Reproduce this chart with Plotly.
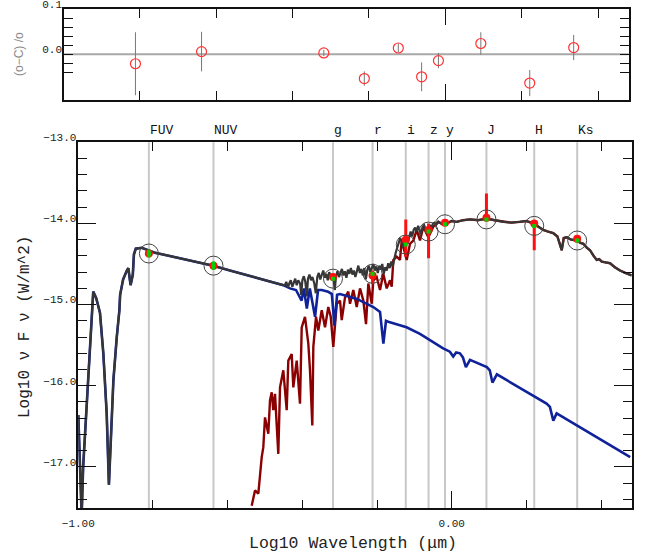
import plotly.graph_objects as go

# ---------------- data ----------------
# hot component model (blue)
HOT_LOGW = [-1.000, -0.991, -0.987, -0.982, -0.976, -0.971, -0.964, -0.960, -0.952, -0.942,
            -0.933, -0.924, -0.918, -0.911, -0.906, -0.897, -0.890, -0.888, -0.880, -0.870,
            -0.866, -0.860, -0.854, -0.851, -0.846, -0.830, -0.795, -0.639, -0.594, -0.451,
            -0.433, -0.417, -0.402, -0.396, -0.388, -0.380, -0.366, -0.358, -0.348, -0.331,
            -0.321, -0.314, -0.307, -0.299, -0.254, -0.210, -0.192, -0.183, -0.176, -0.170,
            -0.121, -0.085, -0.023, -0.005, 0.004, 0.012, 0.022, 0.030, 0.038, 0.049,
            0.094, 0.102, 0.109, 0.121, 0.254, 0.263, 0.272, 0.281, 0.478]
HOT_LOGF = [-16.36, -17.60, -17.00, -16.60, -16.20, -15.74, -15.20, -14.84, -14.92, -15.10,
            -15.60, -16.34, -17.22, -16.34, -15.93, -15.40, -15.07, -14.88, -14.69, -14.58,
            -14.55, -14.76, -14.63, -14.38, -14.31, -14.30, -14.36, -14.52, -14.58, -14.76,
            -14.80, -14.82, -14.95, -14.80, -15.05, -14.80, -15.15, -14.82, -14.82, -14.84,
            -14.87, -15.26, -14.88, -14.87, -14.93, -15.03, -15.09, -15.48, -15.20, -15.21,
            -15.28, -15.36, -15.54, -15.58, -15.64, -15.59, -15.60, -15.65, -15.77, -15.68,
            -15.77, -15.81, -15.96, -15.86, -16.22, -16.26, -16.43, -16.34, -16.88]

# cool component model (dark red)
COOL_LOGW = [-0.5356, -0.5268, -0.5179, -0.5134, -0.5088, -0.5046, -0.5000, -0.4912, -0.4866, -0.4821,
             -0.4778, -0.4732, -0.4644, -0.4598, -0.4510, -0.4419, -0.4376, -0.4285, -0.4242, -0.4151,
             -0.4063, -0.4017, -0.3929, -0.3840, -0.3795, -0.3733, -0.3706, -0.3634, -0.3573, -0.3481,
             -0.3393, -0.3305, -0.3240, -0.3171, -0.3080, -0.2991, -0.2946, -0.2857, -0.2769, -0.2724,
             -0.2635, -0.2544, -0.2456, -0.2367, -0.2295, -0.2233, -0.2142, -0.2100, -0.2009, -0.1920,
             -0.1832, -0.1741, -0.1651, -0.1607, -0.1564, -0.1473, -0.1385, -0.1339, -0.1205, -0.1117,
             -0.1028, -0.0937, -0.0849, -0.0760, -0.0627, -0.0493, -0.0359, -0.0250, -0.0134, 0.0000,
             0.0134, 0.0300, 0.0490, 0.0700, 0.0937, 0.1150, 0.1382, 0.1600, 0.1829, 0.2000,
             0.2185, 0.2320, 0.2453, 0.2580, 0.2721, 0.2830, 0.2946, 0.3000, 0.3080, 0.3200,
             0.3348, 0.3450, 0.3524, 0.3620, 0.3704, 0.3800, 0.3883, 0.3950, 0.4017, 0.4120,
             0.4239, 0.4370, 0.4507, 0.4650, 0.4820]
COOL_LOGF = [-17.48, -17.29, -17.33, -17.09, -16.88, -16.76, -16.39, -16.59, -16.18, -16.08,
             -16.30, -16.10, -16.84, -16.02, -15.81, -16.30, -15.69, -15.61, -16.02, -15.69,
             -16.22, -15.28, -15.15, -15.48, -15.81, -16.49, -15.52, -15.15, -15.32, -15.07,
             -15.28, -15.03, -15.15, -15.52, -14.99, -14.95, -15.19, -14.91, -14.84, -14.99,
             -14.82, -15.03, -14.80, -14.95, -15.24, -14.74, -14.99, -14.70, -14.66, -14.82,
             -14.62, -14.80, -14.70, -14.78, -14.45, -14.41, -14.45, -14.21, -14.45, -14.25,
             -14.21, -14.08, -14.21, -14.04, -14.17, -14.04, -13.98, -14.01, -14.00, -13.97,
             -13.98, -13.96, -13.95, -13.96, -13.94, -13.96, -13.98, -13.99, -13.98, -13.97,
             -14.00, -14.04, -14.08, -14.10, -14.12, -14.16, -14.33, -14.18, -14.17, -14.20,
             -14.21, -14.24, -14.25, -14.30, -14.33, -14.40, -14.45, -14.44, -14.47, -14.48,
             -14.49, -14.54, -14.58, -14.61, -14.64]

# composite model (dark grey), optical segment where both components add
TOTAL_OPT_LOGW = [-0.447, -0.443, -0.439, -0.435, -0.431, -0.427, -0.423, -0.419, -0.415, -0.411,
                  -0.406, -0.403, -0.400, -0.396, -0.392, -0.388, -0.385, -0.381, -0.377, -0.373,
                  -0.368, -0.364, -0.360, -0.356, -0.352, -0.348, -0.344, -0.340, -0.336, -0.332,
                  -0.328, -0.324, -0.320, -0.316, -0.313, -0.310, -0.306, -0.302, -0.298, -0.294,
                  -0.290, -0.286, -0.282, -0.278, -0.274, -0.270, -0.266, -0.262, -0.258, -0.254,
                  -0.250, -0.246, -0.242, -0.238, -0.234, -0.230, -0.226, -0.222, -0.218, -0.214,
                  -0.210, -0.206, -0.202, -0.198, -0.194, -0.190, -0.186, -0.182, -0.178, -0.174,
                  -0.170, -0.166, -0.162, -0.158, -0.154, -0.150, -0.146, -0.142, -0.138, -0.134,
                  -0.130, -0.126, -0.122, -0.118, -0.114, -0.110, -0.106, -0.102, -0.098, -0.094,
                  -0.090, -0.086, -0.082, -0.078, -0.074, -0.070, -0.066, -0.062, -0.058, -0.054,
                  -0.050, -0.046, -0.042]
TOTAL_OPT_LOGF = [-14.76, -14.72, -14.79, -14.74, -14.70, -14.78, -14.73, -14.68, -14.76, -14.70,
                  -14.74, -14.88, -14.70, -14.65, -14.72, -14.90, -14.68, -14.63, -14.70, -14.66,
                  -14.74, -14.86, -14.66, -14.61, -14.69, -14.63, -14.58, -14.67, -14.62, -14.70,
                  -14.60, -14.66, -14.63, -14.70, -14.82, -14.65, -14.59, -14.66, -14.61, -14.56,
                  -14.64, -14.59, -14.67, -14.57, -14.62, -14.55, -14.63, -14.58, -14.66, -14.57,
                  -14.52, -14.61, -14.56, -14.64, -14.55, -14.69, -14.57, -14.52, -14.60, -14.55,
                  -14.50, -14.58, -14.53, -14.61, -14.52, -14.57, -14.50, -14.62, -14.54, -14.58,
                  -14.49, -14.55, -14.47, -14.53, -14.42, -14.36, -14.30, -14.24, -14.18, -14.22,
                  -14.30, -14.26, -14.20, -14.25, -14.15, -14.10, -14.16, -14.08, -14.05, -14.10,
                  -14.03, -14.08, -14.13, -14.04, -14.02, -14.07, -14.12, -14.06, -14.02, -14.05,
                  -14.00, -13.99, -14.02]

# photometry
BANDS = ["FUV", "NUV", "g", "r", "i", "z", "y", "J", "H", "Ks"]
BAND_LOGW = [-0.811, -0.638, -0.318, -0.212, -0.123, -0.062, -0.018, 0.093, 0.221, 0.336]
OBS_LOGF = [-14.37, -14.52, -14.66, -14.64, -14.20, -14.08, -13.99, -13.93, -14.00, -14.19]
OBS_ERR_PLUS = [0.0, 0.0, 0.04, 0.06, 0.25, 0.08, 0.02, 0.30, 0.0, 0.03]
OBS_ERR_MINUS = [0.0, 0.0, 0.04, 0.11, 0.21, 0.35, 0.02, 0.03, 0.33, 0.03]
MODEL_LOGF = [-14.37, -14.52, -14.68, -14.62, -14.26, -14.10, -14.01, -13.95, -14.03, -14.21]
MODEL_ERR = [0.05, 0.05, 0, 0, 0, 0, 0, 0, 0, 0]

# residuals
RES = [-0.021, 0.006, 0.003, -0.054, 0.014, -0.050, -0.014, 0.024, -0.064, 0.015]
RES_ERR = [0.070, 0.044, 0.007, 0.016, 0.010, 0.032, 0.017, 0.025, 0.029, 0.028]

X_TICKS = [-1.0, 0.0]
X_TICKTEXT = ["−1.00", "0.00"]
Y_TICKS = [-13.0, -14.0, -15.0, -16.0, -17.0]
Y_TICKTEXT = ["−13.0", "−14.0", "−15.0", "−16.0", "−17.0"]
R_TICKS = [0.0, 0.1]
R_TICKTEXT = ["0.0", "0.1"]
R_MINOR = [0.08, 0.06, 0.04, 0.02, -0.02, -0.04]

# ---------------- build total line ----------------
tot_w = [w for w in HOT_LOGW if w <= -0.451] + TOTAL_OPT_LOGW + [w for w in COOL_LOGW if w >= -0.036]
tot_f = ([f for w, f in zip(HOT_LOGW, HOT_LOGF) if w <= -0.451] + TOTAL_OPT_LOGF
         + [f for w, f in zip(COOL_LOGW, COOL_LOGF) if w >= -0.036])

# figure fills the window (page body margin removed below)
OFF = 0
W, H = 657, 557


def px_x(p):
    return (p - OFF) / W


def px_y(p):
    return 1 - (p - OFF) / H


MONO = "Liberation Mono"

fig = go.Figure()

fig.add_trace(go.Scatter(x=COOL_LOGW, y=COOL_LOGF, mode="lines",
                         line=dict(color="#8b0000", width=2.4), xaxis="x", yaxis="y",
                         showlegend=False, hoverinfo="skip"))
fig.add_trace(go.Scatter(x=HOT_LOGW, y=HOT_LOGF, mode="lines",
                         line=dict(color="#10229a", width=2.6), xaxis="x", yaxis="y",
                         showlegend=False, hoverinfo="skip"))
fig.add_trace(go.Scatter(x=tot_w, y=tot_f, mode="lines",
                         line=dict(color="#363636", width=2.2), xaxis="x", yaxis="y",
                         showlegend=False, hoverinfo="skip"))

fig.add_trace(go.Scatter(x=BAND_LOGW, y=OBS_LOGF, mode="markers",
                         marker=dict(color="#ff1010", size=8),
                         error_y=dict(type="data", symmetric=False, array=OBS_ERR_PLUS,
                                      arrayminus=OBS_ERR_MINUS, color="#ff1010",
                                      thickness=3, width=0),
                         xaxis="x", yaxis="y", showlegend=False))
fig.add_trace(go.Scatter(x=BAND_LOGW, y=MODEL_LOGF, mode="markers",
                         marker=dict(symbol="circle-open", color="#444444", size=19,
                                     line=dict(width=1, color="#444444")),
                         xaxis="x", yaxis="y", showlegend=False))
fig.add_trace(go.Scatter(x=BAND_LOGW, y=MODEL_LOGF, mode="markers",
                         marker=dict(symbol="square", color="#00d000", size=4),
                         error_y=dict(type="data", array=MODEL_ERR, color="#00d000",
                                      thickness=3, width=0),
                         xaxis="x", yaxis="y", showlegend=False))

# residual panel
fig.add_trace(go.Scatter(x=BAND_LOGW, y=RES, mode="markers",
                         marker=dict(symbol="circle-open", color="#ff3333", size=10,
                                     line=dict(width=1.2, color="#ff3333")),
                         error_y=dict(type="data", array=RES_ERR, color="#777777",
                                      thickness=1, width=0),
                         xaxis="x2", yaxis="y2", showlegend=False))

shapes = []
for w in BAND_LOGW:
    shapes.append(dict(type="line", xref="x", yref="y domain", x0=w, x1=w, y0=0, y1=1,
                       line=dict(color="#c8c8c8", width=2), layer="below"))
shapes.append(dict(type="line", xref="x2 domain", yref="y2", x0=0, x1=1, y0=0, y1=0,
                   line=dict(color="#a8a8a8", width=2), layer="below"))

annotations = []
for name, w in zip(BANDS, BAND_LOGW):
    annotations.append(dict(x=w, y=px_y(130), xref="x", yref="paper", text=name,
                            showarrow=False, xanchor="left", yanchor="middle",
                            xshift=-1, font=dict(family=MONO, size=13, color="#111")))
annotations.append(dict(x=px_x(353), y=px_y(543), xref="paper", yref="paper",
                        text="Log10 Wavelength (μm)", showarrow=False,
                        xanchor="center", yanchor="middle",
                        font=dict(family=MONO, size=16.5, color="#222")))
annotations.append(dict(x=px_x(25), y=px_y(327), xref="paper", yref="paper",
                        text="Log10 ν F ν (W/m^2)", showarrow=False, textangle=-90,
                        xanchor="center", yanchor="middle",
                        font=dict(family=MONO, size=16, color="#222")))
annotations.append(dict(x=px_x(19), y=px_y(54), xref="paper", yref="paper",
                        text="(o−C) /o", showarrow=False, textangle=-90,
                        xanchor="center", yanchor="middle",
                        font=dict(family="Liberation Sans", size=12, color="#888")))

axis_common = dict(showline=True, linecolor="#111", linewidth=1.5, mirror="ticks",
                   ticks="inside", tickcolor="#111", tickwidth=1.2, showgrid=False,
                   zeroline=False, automargin=False)

fig.update_layout(
    width=W, height=H, margin=dict(l=0, r=0, t=0, b=0, autoexpand=False),
    paper_bgcolor="white", plot_bgcolor="white",
    shapes=shapes, annotations=annotations, showlegend=False,
    xaxis=dict(domain=[px_x(78.3), px_x(631.7)], range=[-1.0, 0.482], anchor="y",
               tickvals=X_TICKS, ticktext=X_TICKTEXT, ticklen=18,
               minor=dict(tick0=-1.0, dtick=0.2, ticklen=9, ticks="inside",
                          tickcolor="#111", tickwidth=1.2, showgrid=False),
               tickfont=dict(family=MONO, size=11, color="#222"),
               ticklabelstandoff=4, **axis_common),
    yaxis=dict(domain=[px_y(508.3), px_y(142.3)], range=[-17.51, -13.0], anchor="x",
               tickvals=Y_TICKS, ticktext=Y_TICKTEXT, ticklen=18,
               minor=dict(tick0=-13.0, dtick=0.2, ticklen=9, ticks="inside",
                          tickcolor="#111", tickwidth=1.2, showgrid=False),
               tickfont=dict(family=MONO, size=11, color="#222"),
               ticklabelshift=-5, ticklabelstandoff=-2, ticklabeloverflow="allow",
               **axis_common),
    xaxis2=dict(domain=[px_x(64), px_x(628.7)], range=[-0.998, 0.480], anchor="y2",
                tickvals=X_TICKS, showticklabels=False, ticklen=16,
                minor=dict(tick0=-1.0, dtick=0.2, ticklen=9, ticks="inside",
                           tickcolor="#111", tickwidth=1.2, showgrid=False),
                **axis_common),
    yaxis2=dict(domain=[px_y(100), px_y(9.3)], range=[-0.1016, 0.1], anchor="x2",
                tickvals=R_TICKS, ticktext=R_TICKTEXT, ticklen=9,
                minor=dict(tickvals=R_MINOR, ticklen=9, ticks="inside",
                           tickcolor="#111", tickwidth=1.2, showgrid=False),
                tickfont=dict(family=MONO, size=11, color="#222"),
                ticklabelshift=-5, ticklabelstandoff=-2, ticklabeloverflow="allow",
                **axis_common),
)

fig.write_html("out.html", include_plotlyjs=True,
               config={"displayModeBar": False},
               post_script="document.body.style.margin='0';document.body.style.overflow='hidden';")
